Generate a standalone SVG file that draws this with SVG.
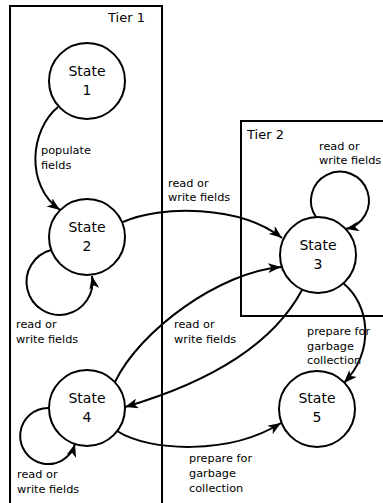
<svg xmlns="http://www.w3.org/2000/svg" width="383" height="503" viewBox="0 0 383 503">
<style>
.box{fill:none;stroke:#000;stroke-width:2}
.node{fill:#fff;stroke:#000;stroke-width:2}
.edge{fill:none;stroke:#000;stroke-width:2}
.st{font-family:"DejaVu Sans",sans-serif;font-size:14px;fill:#000;text-anchor:middle}
.lb{font-family:"DejaVu Sans",sans-serif;font-size:11.3px;fill:#000}
.tier{font-family:"DejaVu Sans",sans-serif;font-size:13px;fill:#000}
</style>
<defs>
<marker id="arr" viewBox="0 0 13 10" refX="13" refY="5" markerWidth="13" markerHeight="10" markerUnits="userSpaceOnUse" orient="auto">
<path d="M0,0 L13,5 L0,10 L3.5,5 z" fill="#000"/>
</marker>
</defs>
<rect fill="#fff" width="383" height="503"/>
<g id="tier1">
<rect class="box" x="10" y="6" width="152" height="510"/>
<text class="tier" x="108" y="22">Tier 1</text>
</g>
<g id="tier2">
<rect class="box" x="241" y="121" width="160" height="195"/>
<text class="tier" x="247" y="139">Tier 2</text>
</g>
<g id="connectors">
<path class="edge" marker-end="url(#arr)" d="M58,107 C30,130 25,185 60,210"/>
<path class="edge" marker-end="url(#arr)" d="M123,222 C160,205 240,205 282,238"/>
<path class="edge" marker-end="url(#arr)" d="M115,382 C140,330 220,272 281,267"/>
<path class="edge" marker-end="url(#arr)" d="M302,290 C270,350 200,385 125,407"/>
<path class="edge" marker-end="url(#arr)" d="M117,431 C150,452 230,455 281,423"/>
<path class="edge" marker-end="url(#arr)" d="M343,283 C370,305 375,350 344,383"/>
<path class="edge" marker-end="url(#arr)" d="M51,250 A33,33 0 1 0 92,276"/>
<path class="edge" marker-end="url(#arr)" d="M49,408 A28,28 0 1 0 75,444"/>
<path class="edge" marker-end="url(#arr)" d="M316,217 A29,29 0 1 1 346,229"/>
<text class="lb" x="41" y="154">populate</text>
<text class="lb" x="41" y="169">fields</text>
<text class="lb" x="168" y="187">read or</text>
<text class="lb" x="168" y="201">write fields</text>
<text class="lb" x="319" y="150">read or</text>
<text class="lb" x="319" y="164">write fields</text>
<text class="lb" x="16" y="328">read or</text>
<text class="lb" x="16" y="343">write fields</text>
<text class="lb" x="174" y="328">read or</text>
<text class="lb" x="174" y="343">write fields</text>
<text class="lb" x="307" y="335">prepare for</text>
<text class="lb" x="307" y="350">garbage</text>
<text class="lb" x="307" y="364">collection</text>
<text class="lb" x="17" y="478">read or</text>
<text class="lb" x="17" y="493">write fields</text>
<text class="lb" x="189" y="462">prepare for</text>
<text class="lb" x="189" y="477">garbage</text>
<text class="lb" x="189" y="492">collection</text>
</g>
<g id="state1">
<circle class="node" cx="87" cy="81" r="38"/>
<text class="st" x="87" y="76">State</text>
<text class="st" x="87" y="95">1</text>
</g>
<g id="state2">
<circle class="node" cx="87" cy="237" r="38"/>
<text class="st" x="87" y="232">State</text>
<text class="st" x="87" y="251">2</text>
</g>
<g id="state3">
<circle class="node" cx="318" cy="255" r="38"/>
<text class="st" x="318" y="250">State</text>
<text class="st" x="318" y="269">3</text>
</g>
<g id="state4">
<circle class="node" cx="87" cy="408" r="38"/>
<text class="st" x="87" y="403">State</text>
<text class="st" x="87" y="422">4</text>
</g>
<g id="state5">
<circle class="node" cx="317" cy="409" r="38"/>
<text class="st" x="317" y="403">State</text>
<text class="st" x="317" y="422">5</text>
</g>
</svg>
